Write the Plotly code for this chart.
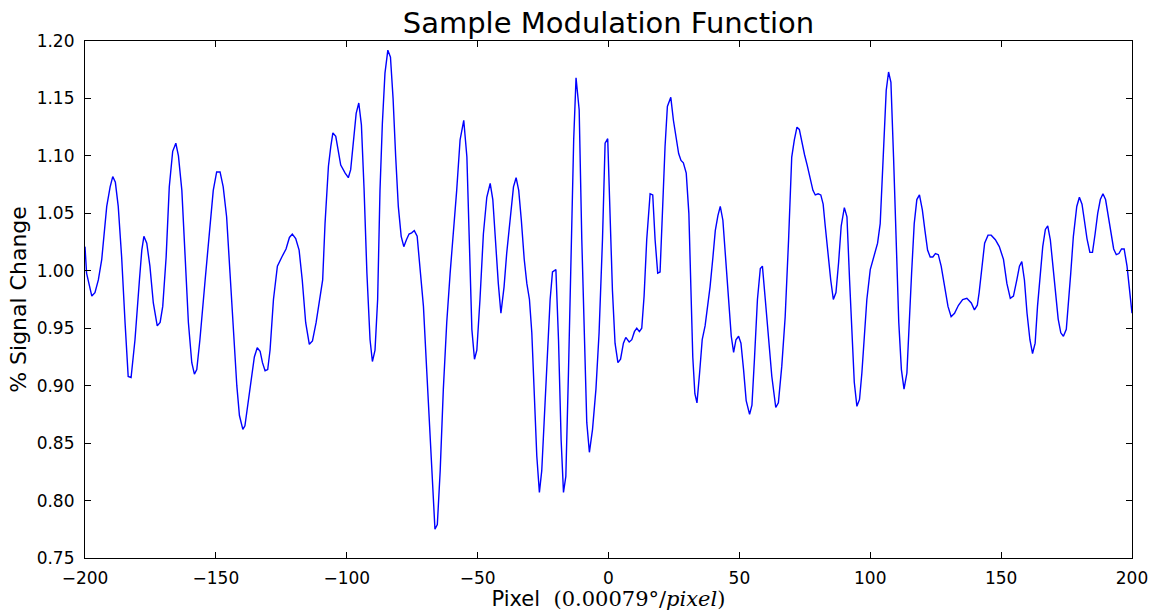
import plotly.graph_objects as go

pixel = [
    -200.0, -199.4, -197.4, -196.2, -194.9, -193.6, -191.7, -190.4, -189.4, -188.4,
    -187.3, -186.0, -184.7, -183.5, -182.4, -180.9, -179.2, -178.3, -177.5, -176.4,
    -175.2, -173.9, -172.4, -171.3, -170.3, -169.0, -167.8, -166.5, -165.3, -164.3,
    -163.0, -161.8, -160.5, -159.2, -158.2, -157.3, -156.1, -154.1, -152.2, -151.0,
    -149.7, -148.4, -147.2, -145.9, -144.6, -143.3, -142.0, -141.0, -139.7, -138.9,
    -137.6, -136.3, -135.3, -134.2, -133.1, -132.2, -131.2, -130.2, -129.3, -128.0,
    -126.5, -124.8, -123.2, -121.9, -120.8, -119.5, -118.2, -117.0, -115.7, -114.3,
    -113.1, -111.7, -110.2, -109.2, -108.3, -107.0, -106.1, -105.3, -104.2, -103.2,
    -102.3, -100.6, -99.4, -98.5, -97.5, -96.4, -95.4, -94.4, -93.4, -92.3,
    -91.1, -90.2, -89.2, -88.2, -87.3, -86.4, -85.4, -84.3, -83.3, -82.3,
    -81.3, -80.3, -79.2, -78.2, -77.2, -76.2, -75.2, -74.2, -73.1, -72.0,
    -70.7, -69.4, -68.2, -67.1, -66.3, -65.4, -64.3, -63.1, -61.8, -60.5,
    -59.3, -58.0, -56.7, -55.3, -54.1, -53.1, -52.2, -51.2, -50.3, -49.1,
    -47.8, -46.5, -45.2, -44.2, -42.9, -42.1, -41.1, -39.9, -38.9, -37.6,
    -36.3, -35.3, -34.3, -33.3, -32.2, -31.2, -30.2, -29.3, -28.4, -27.4,
    -26.4, -25.5, -24.6, -23.3, -22.3, -21.4, -20.1, -19.1, -18.1, -17.2,
    -16.3, -15.3, -14.3, -13.3, -12.4, -11.2, -10.2, -9.2, -8.3, -7.3,
    -6.1, -4.8, -3.6, -2.3, -1.3, -0.3, 0.6, 1.5, 2.5, 3.6,
    4.6, 5.7, 6.6, 7.9, 8.9, 9.9, 10.8, 11.8, 12.7, 13.6,
    14.6, 15.9, 16.9, 17.8, 18.8, 19.7, 20.7, 21.6, 22.5, 23.8,
    24.8, 25.8, 26.8, 27.7, 28.6, 29.7, 30.7, 31.5, 32.2, 33.0,
    33.8, 34.8, 35.8, 36.9, 37.8, 38.8, 39.9, 40.8, 41.8, 42.7,
    43.7, 44.7, 45.8, 46.9, 47.8, 48.7, 49.7, 50.6, 51.6, 52.6,
    53.9, 54.8, 55.8, 56.9, 58.0, 58.8, 59.9, 61.1, 62.4, 63.9,
    64.9, 66.2, 67.5, 68.8, 70.0, 71.0, 72.0, 72.9, 73.9, 74.9,
    75.9, 77.1, 78.1, 79.0, 80.1, 81.1, 82.0, 82.8, 83.9, 84.9,
    85.9, 86.9, 87.9, 88.9, 90.1, 91.1, 92.1, 93.0, 93.9, 94.9,
    95.9, 96.8, 97.7, 98.7, 100.0, 101.2, 102.8, 103.8, 104.6, 105.3,
    106.1, 107.0, 107.9, 108.9, 109.9, 110.9, 111.9, 112.9, 114.0, 114.8,
    115.8, 116.8, 117.8, 118.8, 119.9, 120.9, 121.9, 122.9, 123.9, 124.9,
    126.0, 127.1, 128.4, 129.7, 130.9, 132.2, 133.7, 135.3, 136.9, 138.6,
    139.8, 140.9, 141.6, 142.7, 143.7, 145.0, 146.2, 147.8, 149.3, 150.9,
    152.2, 153.5, 154.7, 156.0, 157.0, 157.9, 158.9, 159.9, 161.0, 162.0,
    163.0, 163.9, 164.9, 165.9, 166.9, 167.8, 168.8, 169.8, 170.8, 171.8,
    172.8, 173.8, 174.9, 175.7, 176.6, 177.6, 178.9, 179.9, 180.9, 181.8,
    182.8, 183.9, 184.9, 185.9, 186.9, 187.9, 188.9, 189.9, 190.9, 191.9,
    193.0, 194.0, 195.0, 196.0, 197.0, 198.1, 199.0, 200.0,
]

signal = [
    1.021, 0.998, 0.978, 0.981, 0.992, 1.010, 1.056, 1.073, 1.082, 1.077,
    1.056, 1.012, 0.955, 0.908, 0.907, 0.940, 0.992, 1.018, 1.030, 1.024,
    1.004, 0.972, 0.952, 0.955, 0.969, 1.012, 1.073, 1.104, 1.111, 1.100,
    1.070, 1.012, 0.955, 0.920, 0.910, 0.914, 0.940, 0.992, 1.039, 1.070,
    1.086, 1.086, 1.073, 1.047, 0.998, 0.949, 0.900, 0.874, 0.862, 0.865,
    0.888, 0.908, 0.925, 0.933, 0.930, 0.920, 0.913, 0.914, 0.931, 0.975,
    1.004, 1.012, 1.019, 1.029, 1.032, 1.028, 1.018, 0.992, 0.955, 0.936,
    0.939, 0.955, 0.975, 0.992, 1.041, 1.091, 1.108, 1.120, 1.117, 1.105,
    1.092, 1.085, 1.081, 1.088, 1.114, 1.137, 1.146, 1.127, 1.072, 0.998,
    0.940, 0.921, 0.931, 0.975, 1.070, 1.128, 1.172, 1.192, 1.186, 1.150,
    1.099, 1.056, 1.030, 1.021, 1.027, 1.032, 1.033, 1.035, 1.030, 1.004,
    0.969, 0.911, 0.853, 0.801, 0.775, 0.779, 0.826, 0.897, 0.955, 0.998,
    1.032, 1.070, 1.114, 1.131, 1.099, 1.027, 0.949, 0.923, 0.931, 0.975,
    1.032, 1.064, 1.076, 1.062, 1.015, 0.989, 0.963, 0.986, 1.015, 1.047,
    1.073, 1.081, 1.070, 1.044, 1.010, 0.989, 0.975, 0.946, 0.897, 0.839,
    0.807, 0.826, 0.868, 0.925, 0.975, 0.999, 1.001, 0.940, 0.853, 0.807,
    0.821, 0.911, 1.027, 1.114, 1.168, 1.140, 1.027, 0.940, 0.868, 0.842,
    0.862, 0.897, 0.946, 1.027, 1.111, 1.115, 1.041, 0.983, 0.937, 0.920,
    0.923, 0.937, 0.942, 0.938, 0.940, 0.947, 0.950, 0.947, 0.950, 0.978,
    1.027, 1.067, 1.066, 1.027, 0.998, 0.999, 1.056, 1.108, 1.143, 1.151,
    1.131, 1.117, 1.102, 1.096, 1.094, 1.085, 1.050, 0.983, 0.925, 0.893,
    0.885, 0.911, 0.940, 0.952, 0.966, 0.986, 1.012, 1.035, 1.048, 1.056,
    1.044, 1.015, 0.975, 0.943, 0.929, 0.940, 0.943, 0.937, 0.914, 0.887,
    0.875, 0.883, 0.925, 0.975, 1.002, 1.004, 0.975, 0.940, 0.908, 0.881,
    0.885, 0.917, 0.960, 1.027, 1.099, 1.114, 1.125, 1.123, 1.111, 1.101,
    1.092, 1.079, 1.070, 1.066, 1.067, 1.066, 1.058, 1.039, 1.012, 0.992,
    0.975, 0.981, 1.007, 1.039, 1.055, 1.047, 0.992, 0.940, 0.903, 0.882,
    0.888, 0.911, 0.940, 0.975, 1.001, 1.012, 1.024, 1.041, 1.085, 1.128,
    1.157, 1.173, 1.164, 1.099, 1.027, 0.955, 0.914, 0.897, 0.911, 0.955,
    0.998, 1.041, 1.062, 1.066, 1.053, 1.035, 1.018, 1.012, 1.012, 1.015,
    1.014, 1.004, 0.986, 0.969, 0.960, 0.963, 0.970, 0.975, 0.976, 0.972,
    0.966, 0.970, 0.981, 1.004, 1.024, 1.031, 1.031, 1.027, 1.021, 1.010,
    0.989, 0.976, 0.978, 0.992, 1.004, 1.008, 0.992, 0.963, 0.940, 0.928,
    0.937, 0.969, 0.998, 1.021, 1.036, 1.039, 1.027, 1.004, 0.978, 0.958,
    0.946, 0.943, 0.949, 0.969, 0.998, 1.030, 1.056, 1.064, 1.058, 1.044,
    1.028, 1.016, 1.016, 1.032, 1.050, 1.062, 1.067, 1.062, 1.047, 1.032,
    1.019, 1.014, 1.015, 1.019, 1.019, 1.004, 0.983, 0.963,
]

x_ticks = [-200, -150, -100, -50, 0, 50, 100, 150, 200]
y_ticks = [0.75, 0.80, 0.85, 0.90, 0.95, 1.00, 1.05, 1.10, 1.15, 1.20]

fig = go.Figure()
fig.add_trace(go.Scatter(
    x=pixel, y=signal, mode="lines",
    line=dict(color="#0000ff", width=1.4),
    showlegend=False, hoverinfo="skip",
))

axis_common = dict(
    showgrid=False, zeroline=False, automargin=False,
    showline=True, linecolor="black", linewidth=1.2, mirror="allticks",
    ticks="inside", ticklen=6, tickcolor="black", tickwidth=1,
    tickfont=dict(family="DejaVu Sans", size=17, color="black"),
)

fig.update_layout(
    width=1152, height=611,
    margin=dict(l=85, r=20, t=41, b=53),
    paper_bgcolor="white", plot_bgcolor="white",
    title=dict(
        text="Sample Modulation Function",
        font=dict(family="DejaVu Sans", size=29, color="black"),
        x=0.5, xanchor="center", xref="paper",
        y=0.962, yanchor="middle", yref="container",
    ),
    xaxis=dict(
        range=[-200, 200], tickvals=x_ticks,
        ticklabelstandoff=4,
        title=dict(
            text="Pixel  <span style=\"font-family:'DejaVu Serif'\">(0.00079°/<i>pixel</i>)</span>",
            font=dict(family="DejaVu Sans", size=21, color="black"),
            standoff=4,
        ),
        **axis_common,
    ),
    yaxis=dict(
        range=[0.75, 1.20], tickvals=y_ticks, tickformat=".2f",
        ticklabelstandoff=6,
        title=dict(
            text="% Signal Change",
            font=dict(family="DejaVu Sans", size=22, color="black"),
            standoff=3,
        ),
        **axis_common,
    ),
)

fig.write_html("out.html")
